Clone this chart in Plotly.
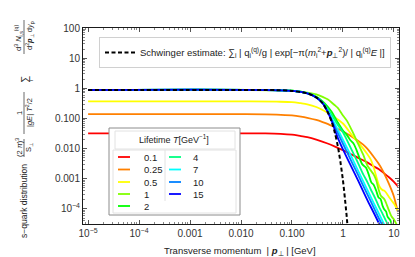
import plotly.graph_objects as go

# ---------------- data ----------------
LIFETIMES = ["0.1", "0.25", "0.5", "1", "2", "4", "7", "10", "15"]
COLORS = ["#ff0000", "#ff8000", "#ffff00", "#80ff00", "#00ff00",
          "#00ff80", "#00ffff", "#0080ff", "#0000ff"]

P_T01 = [1e-5, 0.01, 0.03, 0.06, 0.1, 0.15, 0.2, 0.3, 0.5, 0.7, 1.0, 1.5, 2, 3, 4, 5, 6, 8, 10, 12]
Y_T01 = [0.032, 0.032, 0.032, 0.031, 0.029, 0.026, 0.024, 0.020, 0.0148, 0.0117, 0.0089, 0.0063,
         0.0049, 0.0035, 0.0026, 0.0021, 0.00166, 0.00112, 0.00079, 0.00056]

P_T025 = [1e-5, 0.01, 0.05, 0.1, 0.15, 0.2, 0.3, 0.4, 0.5, 0.7, 1.0, 1.5, 2, 2.5, 3, 4, 5, 6, 7, 8, 9, 10, 11, 12]
Y_T025 = [0.139, 0.139, 0.135, 0.126, 0.115, 0.105, 0.089, 0.076, 0.066, 0.050, 0.037, 0.025, 0.018,
          0.0135, 0.010, 0.0054, 0.0032, 0.0019, 0.00112, 6.8e-4, 4.2e-4, 2.6e-4, 1.4e-4, 7.9e-5]

P_T05 = [1e-5, 0.01, 0.05, 0.1, 0.15, 0.2, 0.3, 0.4, 0.5, 0.7, 1.0, 1.5, 2, 2.5, 3, 3.5, 4, 4.5, 5,
         5.5, 6, 6.5, 7, 8, 9, 10, 11, 12]
Y_T05 = [0.37, 0.37, 0.36, 0.35, 0.32, 0.295, 0.24, 0.19, 0.155, 0.107, 0.068, 0.028, 0.0158, 0.010,
         0.0066, 0.0044, 0.0024, 0.0012, 6.6e-4, 4.8e-4, 4.2e-4, 4.0e-4, 3.5e-4, 2.5e-4, 1.9e-4,
         1.5e-4, 1.12e-4, 8.3e-5]

P_T1 = [1e-5, 0.01, 0.05, 0.1, 0.2, 0.3, 0.4, 0.5, 0.6, 0.7, 0.8, 1.0, 1.2, 1.5, 2.0, 2.5, 3.0, 3.5,
        4.0, 4.5, 5, 5.5, 6, 6.5, 7, 8, 9, 10, 11, 12]
Y_T1 = [0.87, 0.87, 0.86, 0.83, 0.72, 0.63, 0.52, 0.43, 0.34, 0.27, 0.22, 0.126, 0.083, 0.040, 0.0141,
        0.0063, 0.0028, 0.0019, 0.0014, 8.9e-4, 4.5e-4, 2.8e-4, 2.4e-4, 2.1e-4, 1.6e-4, 8.9e-5,
        5.6e-5, 4.5e-5, 3.3e-5, 2.5e-5]

P_T2 = [1e-5, 0.1, 0.2, 0.3, 0.4, 0.5, 0.6, 0.7, 0.8, 1.0, 1.2, 1.4, 1.6, 1.8, 2.0, 2.4, 2.8, 3.2,
        3.6, 4.0, 4.5, 5.0, 5.5, 6.0, 6.5, 7.0, 7.5, 8.0, 8.5, 9.0, 9.5]
Y_T2 = [0.88, 0.83, 0.69, 0.52, 0.37, 0.25, 0.166, 0.107, 0.072, 0.040, 0.028, 0.019, 0.0151, 0.010,
        0.0063, 0.0030, 0.0024, 0.0014, 7.6e-4, 6.3e-4, 4.0e-4, 2.4e-4, 2.1e-4, 1.26e-4, 9.5e-5,
        8.3e-5, 5.6e-5, 4.8e-5, 4.2e-5, 3.2e-5, 2.5e-5]

P_T4 = [1e-5, 0.1, 0.2, 0.3, 0.4, 0.5, 0.6, 0.7, 0.8, 1.0, 1.2, 1.5, 2.0, 2.5, 3, 3.5, 4, 4.5, 5, 6, 7, 7.5]
Y_T4 = [0.88, 0.83, 0.69, 0.51, 0.34, 0.21, 0.132, 0.087, 0.060, 0.035, 0.019, 0.0087, 0.0032, 0.0014,
        7.9e-4, 4.5e-4, 2.9e-4, 1.9e-4, 1.26e-4, 6.9e-5, 4.0e-5, 3.2e-5]

P_T7 = [1e-5, 0.1, 0.2, 0.3, 0.4, 0.5, 0.6, 0.7, 0.8, 1.0, 1.5, 2, 3, 4, 5, 6, 6.5]
Y_T7 = [0.88, 0.82, 0.68, 0.50, 0.32, 0.186, 0.105, 0.063, 0.042, 0.020, 0.0050, 0.0018, 4.4e-4,
        1.6e-4, 7.4e-5, 3.9e-5, 2.95e-5]

P_T10 = [1e-5, 0.1, 0.2, 0.3, 0.4, 0.5, 0.6, 0.7, 0.8, 1.0, 1.5, 2, 3, 4, 5, 5.8]
Y_T10 = [0.88, 0.82, 0.68, 0.50, 0.32, 0.174, 0.091, 0.050, 0.032, 0.0145, 0.0035, 0.00129, 3.1e-4,
         1.12e-4, 5.1e-5, 3.1e-5]

P_T15 = [1e-5, 0.1, 0.2, 0.3, 0.4, 0.5, 0.6, 0.7, 0.8, 1.0, 1.5, 2, 3, 4, 5, 5.2]
Y_T15 = [0.88, 0.82, 0.68, 0.50, 0.32, 0.166, 0.083, 0.040, 0.022, 0.0095, 0.0023, 8.5e-4, 2.0e-4,
         7.6e-5, 3.5e-5, 3.0e-5]

P_SCHWINGER = [1e-5, 0.01, 0.05, 0.1, 0.2, 0.3, 0.4, 0.5, 0.6, 0.7, 0.8, 0.9, 1.0, 1.1, 1.2, 1.25]
Y_SCHWINGER = [0.88, 0.88, 0.87, 0.82, 0.68, 0.50, 0.32, 0.166, 0.079, 0.032, 0.0112, 0.0033,
               8.9e-4, 2.0e-4, 4.5e-5, 1.8e-5]

X_TICKVALS = [1e-5, 1e-4, 1e-3, 1e-2, 1e-1, 1, 10]
X_TICKTEXT = ["10<sup>−5</sup>", "10<sup>−4</sup>", "0.001", "0.010", "0.100", "1", "10"]
Y_TICKVALS = [1e-4, 1e-3, 1e-2, 1e-1, 1, 10, 100]
Y_TICKTEXT = ["10<sup>−4</sup>", "0.001", "0.010", "0.100", "1", "10", "100"]

SERIES_P = [P_T01, P_T025, P_T05, P_T1, P_T2, P_T4, P_T7, P_T10, P_T15]
SERIES_Y = [Y_T01, Y_T025, Y_T05, Y_T1, Y_T2, Y_T4, Y_T7, Y_T10, Y_T15]

# ---------------- figure ----------------
W, H = 415, 257
ML, MR, MT, MB = 75, 24, 20, 41
PW, PH = W - ML - MR, H - MT - MB
FONT = "Liberation Sans, Arial, sans-serif"


def px(xp):
    return (xp - ML) / PW


def py(yp):
    return (MT + PH - yp) / PH


fig = go.Figure()
for name, p, y, c in zip(LIFETIMES, SERIES_P, SERIES_Y, COLORS):
    fig.add_trace(go.Scatter(x=p, y=y, mode="lines", name=name, showlegend=False,
                             line=dict(color=c, width=1.8, shape="spline", smoothing=0.8)))

fig.add_trace(go.Scatter(
    x=P_SCHWINGER, y=Y_SCHWINGER, mode="lines",
    line=dict(color="black", width=2, dash="4px,2.5px", shape="spline", smoothing=0.8),
    name=("Schwinger estimate: ∑<sub>i</sub> | q<sub>i</sub><sup>(q)</sup>/g | "
          "exp[−π(<i>m</i><sub>i</sub><sup>2</sup>+<b><i>p</i></b><sub>⊥</sub><sup>2</sup>)/ "
          "| q<sub>i</sub><sup>(q)</sup><i>E</i> |]"),
    showlegend=True, legend="legend"))

axis_common = dict(type="log", showline=True, linecolor="#1a1a1a", linewidth=1, mirror="allticks",
                   ticks="inside", ticklen=4, tickwidth=1, tickcolor="#555",
                   showgrid=False, zeroline=False,
                   tickfont=dict(family=FONT, size=10, color="#333"),
                   minor=dict(ticks="inside", ticklen=2, tickcolor="#888", dtick="D1", showgrid=False))

fig.update_xaxes(range=[-5.1, 1.1], tickvals=X_TICKVALS, ticktext=X_TICKTEXT, **axis_common)
fig.update_yaxes(range=[-4.5, 2.0], tickvals=Y_TICKVALS, ticktext=Y_TICKTEXT, **axis_common)

shapes = []
annotations = []

# Lifetime legend (drawn manually: compact grid like the reference)
shapes.append(dict(type="rect", xref="paper", yref="paper", x0=px(101), x1=px(232), y0=py(207), y1=py(120),
                   line=dict(color="#8c8c8c", width=1), fillcolor="white", layer="above"))
shapes.append(dict(type="rect", xref="paper", yref="paper", x0=px(107), x1=px(227), y0=py(141), y1=py(123),
                   line=dict(color="#e2e2e2", width=1), fillcolor="rgba(0,0,0,0)", layer="above"))
shapes.append(dict(type="rect", xref="paper", yref="paper", x0=px(105), x1=px(228), y0=py(205), y1=py(142),
                   line=dict(color="#e2e2e2", width=1), fillcolor="rgba(0,0,0,0)", layer="above"))
shapes.append(dict(type="line", xref="paper", yref="paper", x0=px(157), x1=px(157), y0=py(193), y1=py(142),
                   line=dict(color="#e2e2e2", width=1), layer="above"))
annotations.append(dict(text="Lifetime <i>T</i>[GeV<sup>−1</sup>]", xref="paper", yref="paper",
                        x=px(166), y=py(131), showarrow=False, xanchor="center", yanchor="middle",
                        font=dict(family=FONT, size=9, color="#222")))
row_y = [149, 161.5, 174, 186, 198]
for i, (name, c) in enumerate(zip(LIFETIMES, COLORS)):
    col, row = (0, i) if i < 5 else (1, i - 5)
    lx0 = 110 if col == 0 else 161
    tx = 134 if col == 0 else 183
    yy = py(row_y[row])
    shapes.append(dict(type="line", xref="paper", yref="paper", x0=px(lx0), x1=px(lx0 + 12), y0=yy, y1=yy,
                       line=dict(color=c, width=1.8), layer="above"))
    annotations.append(dict(text=name, xref="paper", yref="paper", x=px(tx), y=yy, showarrow=False,
                            xanchor="left", yanchor="middle", font=dict(family=FONT, size=9.5, color="#222")))

# y-axis title pieces (rotated)
def rot(text, xp, yp, size=8):
    annotations.append(dict(text=text, xref="paper", yref="paper", x=px(xp), y=py(yp), textangle=-90,
                            showarrow=False, xanchor="center", yanchor="middle",
                            font=dict(family=FONT, size=size, color="#222")))


rot("s−quark distribution", 16, 193, 8.5)
rot("(2 <i>π</i>)<sup>3</sup>", 11, 140, 7.5)
rot("S<sub>⊥</sub>", 21, 140, 7.5)
rot("1", 11, 105, 7.5)
rot("|<i>gE</i>| <i>T</i><sup>2</sup>/2", 21, 105, 7.5)
rot("∑", 16, 72, 10)
rot("i", 23, 73, 6)
rot("d<sup>3</sup> <i>N</i><sub>i,s</sub><sup>(q)</sup>", 11, 30, 7.5)
rot("d<sup>2</sup><b><i>p</i></b><sub>⊥</sub> d<i>y</i><sub>p</sub>", 21, 28, 7.5)
for y0, y1 in [(131, 149), (84, 126), (12, 46)]:
    shapes.append(dict(type="line", xref="paper", yref="paper", x0=px(16), x1=px(16), y0=py(y0), y1=py(y1),
                       line=dict(color="#444", width=0.8)))

annotations.append(dict(text="Transverse momentum  | <b><i>p</i></b><sub>⊥</sub> | [GeV]", xref="paper",
                        yref="paper", x=px(232), y=py(243), showarrow=False, xanchor="center",
                        yanchor="middle", font=dict(family=FONT, size=9.5, color="#222")))

fig.update_layout(
    width=W, height=H, margin=dict(l=ML, r=MR, t=MT, b=MB),
    paper_bgcolor="white", plot_bgcolor="white",
    font=dict(family=FONT, size=9, color="#222"),
    shapes=shapes, annotations=annotations,
    legend=dict(x=px(383), y=py(29), xanchor="right", yanchor="top", bgcolor="white",
                bordercolor="#d0d0d0", borderwidth=1, font=dict(family=FONT, size=9.5, color="#222"),
                itemwidth=30),
)

fig.write_html("out.html")
